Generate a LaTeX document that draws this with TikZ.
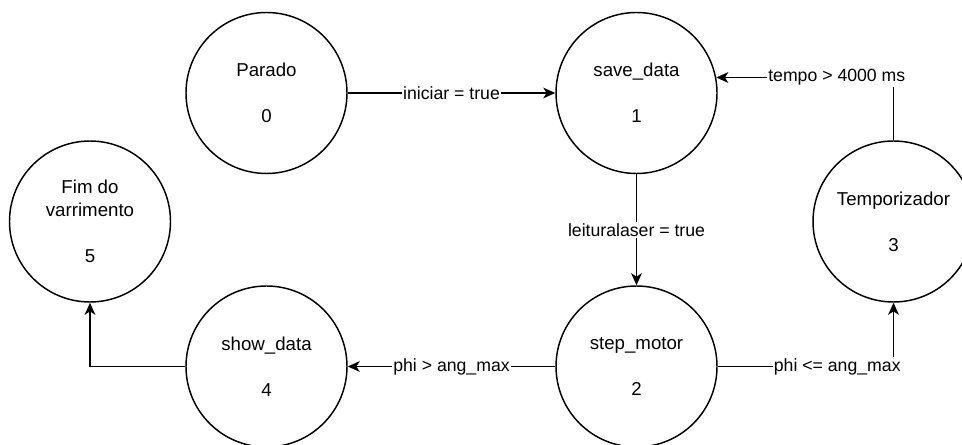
\documentclass[tikz,border=0pt]{standalone}
\usepackage{fontspec}
\setmainfont{Liberation Sans}
\usetikzlibrary{arrows.meta}

\tikzset{
  state/.style={draw, circle, line width=1.1pt, minimum size=120.75pt,
    inner sep=0pt, align=center, font=\fontsize{14}{17.25}\selectfont},
  trans/.style={line width=1.1pt, -{Stealth[length=9pt, width=8pt, inset=2.5pt]}},
  cond/.style={fill=white, inner sep=1pt, font=\fontsize{13.25}{16}\selectfont}
}

\begin{document}
\begin{tikzpicture}[x=0.75pt, y=-0.75pt]

    \useasboundingbox (0,0) rectangle (962,445);

    % States
    \node[state] (parado) at (266.5,93)  {Parado\\[17.25pt]0};
    \node[state] (save)   at (636.5,93)  {save\_data\\[17.25pt]1};
    \node[state] (step)   at (636.5,366.5) {step\_motor\\[17.25pt]2};
    \node[state] (temp)   at (893.5,221.5) {Temporizador\\[17.25pt]3};
    \node[state] (show)   at (266.5,366.5) {show\_data\\[17.25pt]4};
    \node[state] (fim)    at (90,221.5)  {Fim do\\varrimento\\[17.25pt]5};

    % Transitions
    \draw[trans] (parado) -- node[cond] {iniciar = true} (save);
    \draw[trans] (save) -- node[cond] {leituralaser = true} (step);
    \draw[trans] (step) -- node[cond] {phi > ang\_max} (show);
    \draw[trans] (step.east) -| node[cond, pos=0.34] {phi <= ang\_max} (temp.south);
    \draw[trans] (temp.north) |- node[cond, pos=0.66] {tempo > 4000 ms} (save.11.5);
    \draw[trans] (show.west) -| (fim.south);

\end{tikzpicture}
\end{document}
